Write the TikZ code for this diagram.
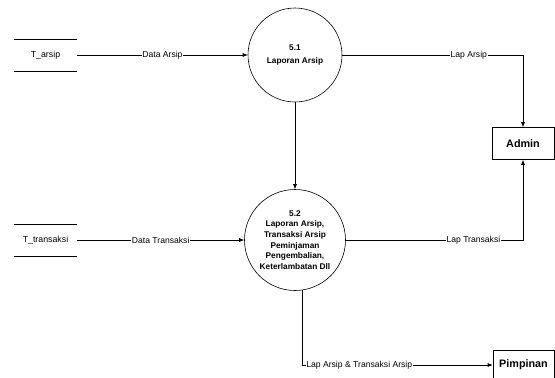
\documentclass[tikz,border=0pt]{standalone}
\usepackage{fontspec}
\setmainfont{Liberation Sans}
\usetikzlibrary{arrows.meta}

\begin{document}
\begin{tikzpicture}[x=1pt, y=-1pt,
		process/.style={draw, circle, line width=0.6pt, inner sep=0pt, align=center, font=\fontsize{8.3}{10.6}\selectfont\bfseries},
		entity/.style={draw, rectangle, line width=0.6pt, inner sep=0pt, font=\fontsize{10.8}{12}\selectfont\bfseries},
		store/.style={inner sep=0pt, minimum width=63pt, minimum height=32pt, font=\fontsize{8.8}{10}\selectfont},
		flow/.style={line width=0.6pt, -{Latex[length=5pt,width=4pt]}},
		flowlbl/.style={fill=white, inner sep=0.6pt, font=\fontsize{8.6}{9}\selectfont}]
	\useasboundingbox (0,0) rectangle (555,378);
	
	% proses
	\node[process, minimum size=94pt] (p1) at (295,55){5.1\\[1.5pt]Laporan Arsip};
	\node[process, minimum size=101pt] (p2) at (295,240){5.2\\Laporan Arsip,\\Transaksi Arsip\\Peminjaman\\Pengembalian,\\Keterlambatan Dll};
	
	% data store
	\node[store] (tarsip) at (45.5,55){T\_arsip};
	\node[store] (ttrans) at (45.5,240){T\_transaksi};
	\foreach \s in {tarsip, ttrans} {
		\draw[line width=0.6pt] (\s.north west) -- (\s.north east);
		\draw[line width=0.6pt] (\s.south west) -- (\s.south east);
	}
	
	% entitas
	\node[entity, minimum width=62pt, minimum height=32pt] (admin) at (523,143.5){Admin};
	\node[entity, minimum width=61pt, minimum height=30pt] (pimp) at (523.5,365){Pimpinan};
	
	% aliran data
	\draw[flow] (tarsip.east) -- (p1.west) node[flowlbl, midway]{Data Arsip};
	\draw[flow] (ttrans.east) -- (p2.west) node[flowlbl, midway]{Data Transaksi};
	\draw[flow] (p1.south) -- (p2.north);
	\draw[flow] (p1.east) -| (admin.north) node[flowlbl, pos=0.35]{Lap Arsip};
	\draw[flow] (p2.east) -| (admin.south) node[flowlbl, pos=0.36]{Lap Transaksi};
	\draw[flow] (p2.-82) |- (pimp.west) node[flowlbl, pos=0.65]{Lap Arsip \& Transaksi Arsip};
\end{tikzpicture}
\end{document}
